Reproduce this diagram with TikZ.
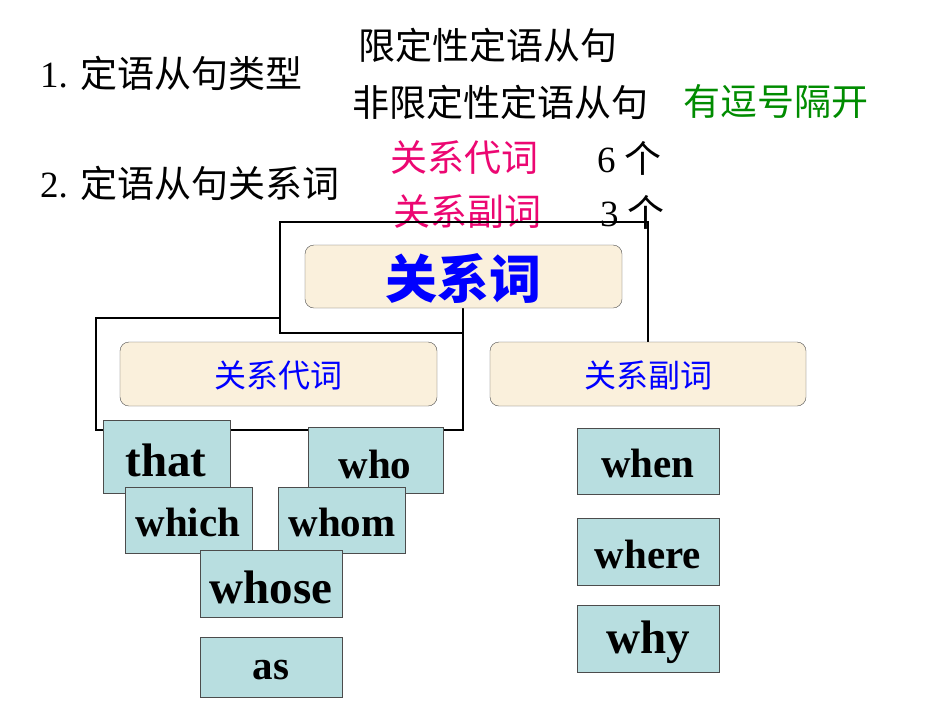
\documentclass[tikz,border=0pt]{standalone}
\usepackage{fontspec}
\setmainfont{Liberation Serif}
\newfontfamily\cjk{Noto Sans CJK SC}
\definecolor{wfill}{HTML}{B8DEE0}
\definecolor{cfill}{HTML}{FAF0DC}
\begin{document}
\begin{tikzpicture}[x=1pt,y=-1pt,
  cat/.style={draw=black!70,rounded corners=9pt,fill=cfill,thin},
  wbox/.style={draw=black!70,fill=wfill,thin},
  wtxt/.style={font=\bfseries\fontsize{41}{41}\selectfont},
  wbig/.style={font=\bfseries\fontsize{47}{47}\selectfont},
  ctxt/.style={font=\cjk\fontsize{37}{37}\selectfont},
  frame/.style={line width=2.2pt}]
\useasboundingbox (0,0) rectangle (950,713);
\fill[white] (0,0) rectangle (950,713);
% text
\node[anchor=west,font=\fontsize{37}{37}\selectfont,inner sep=0] (t1) at (40,73) {1. {\cjk 定语从句类型}};
\node[anchor=west,ctxt,inner sep=0] (t1a) at (358,45) {限定性定语从句};
\node[anchor=west,ctxt,inner sep=0] (t1b) at (352,102) {非限定性定语从句};
\node[anchor=west,ctxt,text=green!55!black,inner sep=0] (t1c) at (683,102) {有逗号隔开};
\node[anchor=west,font=\fontsize{37}{37}\selectfont,inner sep=0] (t2) at (40,183) {2. {\cjk 定语从句关系词}};
\node[anchor=west,ctxt,text=magenta!75!red,inner sep=0] (t2a) at (390,158) {关系代词};
\node[anchor=west,font=\fontsize{37}{37}\selectfont,inner sep=0] (t2b) at (597,158) {6 {\cjk 个}};
\node[anchor=west,ctxt,text=magenta!75!red,inner sep=0] (t2c) at (393,212) {关系副词};
\node[anchor=west,font=\fontsize{37}{37}\selectfont,inner sep=0] (t2d) at (600,212) {3 {\cjk 个}};
% frames
\draw[frame] (463,333) -- (280,333) -- (280,222) -- (648,222) -- (648,362);
\draw[frame] (463,308) -- (463,430) -- (96,430) -- (96,318) -- (280,318);
% category boxes
\draw[cat] (305,245) rectangle (622,308);
\node[font=\cjk\bfseries\fontsize{52}{52}\selectfont,text=blue] (r) at (463,278) {关系词};
\draw[cat] (120,342) rectangle (437,406);
\node[font=\cjk\fontsize{32}{32}\selectfont,text=blue] (p) at (278,375) {关系代词};
\draw[cat] (490,342) rectangle (806,406);
\node[font=\cjk\fontsize{32}{32}\selectfont,text=blue] (a) at (648,375) {关系副词};
% word boxes
\draw[wbox] (103,420) rectangle (230,493); \node[wbig] (w1) at (166,460) {that};
\draw[wbox] (308,427) rectangle (443,493); \node[wtxt] (w2) at (375,464) {who};
\draw[wbox] (125,487) rectangle (252,553); \node[wtxt] (w3) at (188,522) {which};
\draw[wbox] (278,487) rectangle (405,553); \node[wtxt] (w4) at (342,522) {whom};
\draw[wbox] (200,550) rectangle (342,617); \node[wbig] (w5) at (271,587) {whose};
\draw[wbox] (200,637) rectangle (342,697); \node[wtxt] (w6) at (271,670) {as};
\draw[wbox] (577,428) rectangle (719,494); \node[wtxt] (w7) at (648,463) {when};
\draw[wbox] (577,518) rectangle (719,585); \node[wtxt] (w8) at (648,554) {where};
\draw[wbox] (577,605) rectangle (719,672); \node[wbig] (w9) at (648,642) {why};
\end{tikzpicture}
\end{document}
